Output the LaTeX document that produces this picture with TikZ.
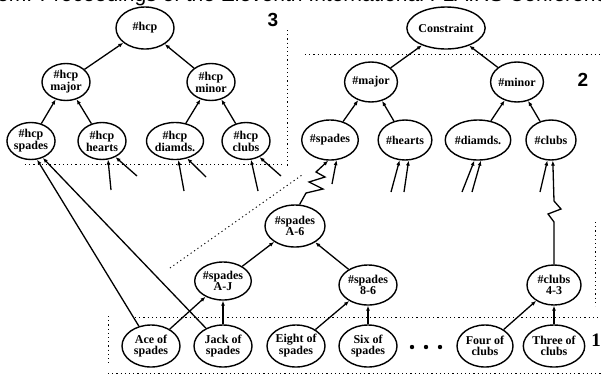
\documentclass[tikz,border=0pt]{standalone}
\usepackage{fontspec}
\setmainfont{Liberation Serif}
\newfontfamily\headfont{Liberation Sans}
\usetikzlibrary{arrows.meta,shapes.geometric}
\tikzset{
	goal/.style={draw, ellipse, line width=1.4pt, inner sep=0pt, align=center,
		font=\fontsize{12}{10.5}\selectfont\bfseries},
	arr/.style={line width=1.3pt, -{Latex[length=5pt,width=4pt]}},
	bound/.style={line width=0.9pt, dash pattern=on 1.2pt off 3pt},
	levelno/.style={font=\headfont\fontsize{19}{19}\selectfont\bfseries}
}

\begin{document}
\begin{tikzpicture}[x=1pt,y=-1pt]
			%%%%% START %%%%%
			
			\useasboundingbox (0,0) rectangle (601,376);
			\clip (0,0) rectangle (601,376);
			\fill[white] (0,0) rectangle (601,376);
			
			\node[anchor=base west, inner sep=0pt, font=\headfont\fontsize{21}{21}\selectfont] (header) at (-3,1.5) {em. Proceedings of the Eleventh International FLAIRS Conference};
			
			% level 3
			\node[goal, minimum width=58pt, minimum height=42pt] (hcp) at (145,28) {\#hcp};
			\node[goal, minimum width=48pt, minimum height=37pt] (hcpmajor) at (66,82) {\#hcp\\major};
			\node[goal, minimum width=48pt, minimum height=37pt] (hcpminor) at (211,82) {\#hcp\\minor};
			\node[goal, minimum width=48pt, minimum height=37pt] (hcpspades) at (31,141) {\#hcp\\spades};
			\node[goal, minimum width=48pt, minimum height=37pt] (hcphearts) at (102,141) {\#hcp\\hearts};
			\node[goal, minimum width=48pt, minimum height=37pt] (hcpdiamds) at (175,141) {\#hcp\\diamds.};
			\node[goal, minimum width=48pt, minimum height=37pt] (hcpclubs) at (246,141) {\#hcp\\clubs};
			\node[levelno] (three) at (273,20) {3};
			
			\draw[arr] (hcpmajor) -- (hcp);
			\draw[arr] (hcpminor) -- (hcp);
			\draw[arr] (hcpspades) -- (hcpmajor);
			\draw[arr] (hcphearts) -- (hcpmajor);
			\draw[arr] (hcpdiamds) -- (hcpminor);
			\draw[arr] (hcpclubs) -- (hcpminor);
			
			\coordinate (hh1) at (111,190);
			\coordinate (hh2) at (137,176);
			\coordinate (hd1) at (184,191);
			\coordinate (hd2) at (206,177);
			\coordinate (hc1) at (258,191);
			\coordinate (hc2) at (281,176);
			\draw[arr] (hh1) -- (hcphearts.-72);
			\draw[arr] (hh2) -- (hcphearts.-50);
			\draw[arr] (hd1) -- (hcpdiamds.-80);
			\draw[arr] (hd2) -- (hcpdiamds.-55);
			\draw[arr] (hc1) -- (hcpclubs.-75);
			\draw[arr] (hc2) -- (hcpclubs.-50);
			
			% level 2
			\node[goal, minimum width=64pt, minimum height=42pt] (constraint) at (446,28) {Constraint};
			\node[goal, minimum width=52pt, minimum height=40pt] (major) at (371,82) {\#major};
			\node[goal, minimum width=52pt, minimum height=40pt] (minor) at (517,82) {\#minor};
			\node[goal, minimum width=50pt, minimum height=40pt] (spades) at (330,140) {\#spades};
			\node[goal, minimum width=50pt, minimum height=40pt] (hearts) at (405,140) {\#hearts};
			\node[goal, minimum width=50pt, minimum height=40pt] (diamds) at (478,140) {\#diamds.};
			\node[goal, minimum width=50pt, minimum height=40pt] (clubs) at (551,140) {\#clubs};
			\node[levelno] (two) at (583,80) {2};
			
			\draw[arr] (major) -- (constraint);
			\draw[arr] (minor) -- (constraint);
			\draw[arr] (spades) -- (major);
			\draw[arr] (hearts) -- (major);
			\draw[arr] (diamds) -- (minor);
			\draw[arr] (clubs) -- (minor);
			
			\coordinate (s1) at (332,184);
			\coordinate (h1) at (391,192);
			\coordinate (h2) at (404,192);
			\coordinate (d1) at (462,192);
			\coordinate (d2) at (472,192);
			\coordinate (c1) at (540,192);
			\draw[arr] (s1) -- (spades.-72);
			\draw[arr] (h1) -- (hearts.-105);
			\draw[arr] (h2) -- (hearts.-80);
			\draw[arr] (d1) -- (diamds.-100);
			\draw[arr] (d2) -- (diamds.-82);
			\draw[arr] (c1) -- (clubs.-100);
			
			% level 1
			\node[goal, minimum width=60pt, minimum height=42pt] (spadesAsix) at (295,226) {\#spades\\A-6};
			\node[goal, minimum width=56pt, minimum height=38pt] (spadesAJ) at (223,281) {\#spades\\A-J};
			\node[goal, minimum width=58pt, minimum height=40pt] (spadesEsix) at (368,285) {\#spades\\8-6};
			\node[goal, minimum width=54pt, minimum height=40pt] (clubsFthree) at (554,285) {\#clubs\\4-3};
			
			\node[goal, minimum width=58pt, minimum height=42pt] (ace) at (151,346) {Ace of\\spades};
			\node[goal, minimum width=58pt, minimum height=42pt] (jack) at (223,346) {Jack of\\spades};
			\node[goal, minimum width=58pt, minimum height=42pt] (eight) at (296,346) {Eight of\\spades};
			\node[goal, minimum width=58pt, minimum height=42pt] (six) at (368,346) {Six of\\spades};
			\node[goal, minimum width=56pt, minimum height=42pt] (four) at (485,346) {Four of\\clubs};
			\node[goal, minimum width=56pt, minimum height=42pt] (threec) at (554,346) {Three of\\clubs};
			\fill (412,347) circle (2.2);
			\fill (426,347) circle (2.2);
			\fill (440,347) circle (2.2);
			\node[levelno, font=\fontsize{19}{19}\selectfont\bfseries] (one) at (596,340) {1};
			
			\draw[arr] (ace) -- (spadesAJ);
			\draw[arr] (jack) -- (spadesAJ);
			\draw[arr] (eight) -- (spadesEsix);
			\draw[arr] (six) -- (spadesEsix);
			\draw[arr] (four) -- (clubsFthree);
			\draw[arr] (threec) -- (clubsFthree);
			\draw[arr] (spadesAJ) -- (spadesAsix);
			\draw[arr] (spadesEsix) -- (spadesAsix);
			
			\draw[arr] (spadesAsix.78) -- (306,193) -- (323,189) -- (309,182) -- (325,177) -- (316,172) -- (spades.-95);
			\draw[arr] (clubsFthree.north) -- (554,222) -- (548,214) -- (561,209) -- (554,201) -- (clubs.-85);
			
			\draw[arr] (ace) -- (hcpspades.-72);
			\draw[arr] (jack) -- (hcpspades.-55);
			
			% boundaries
			\draw[bound] (25,164) -- (285,164);
			\draw[bound] (287,30) -- (287,168);
			\draw[bound] (305,54) -- (601,54);
			\draw[bound] (170,268) -- (302,175);
			\draw[bound] (595,222) -- (595,306);
			\draw[bound] (135,317) -- (600,317);
			\draw[bound] (108,316) -- (108,364);
			\draw[bound] (108,373) -- (601,373);
			
			%%%%% END %%%%%
\end{tikzpicture}
\end{document}
